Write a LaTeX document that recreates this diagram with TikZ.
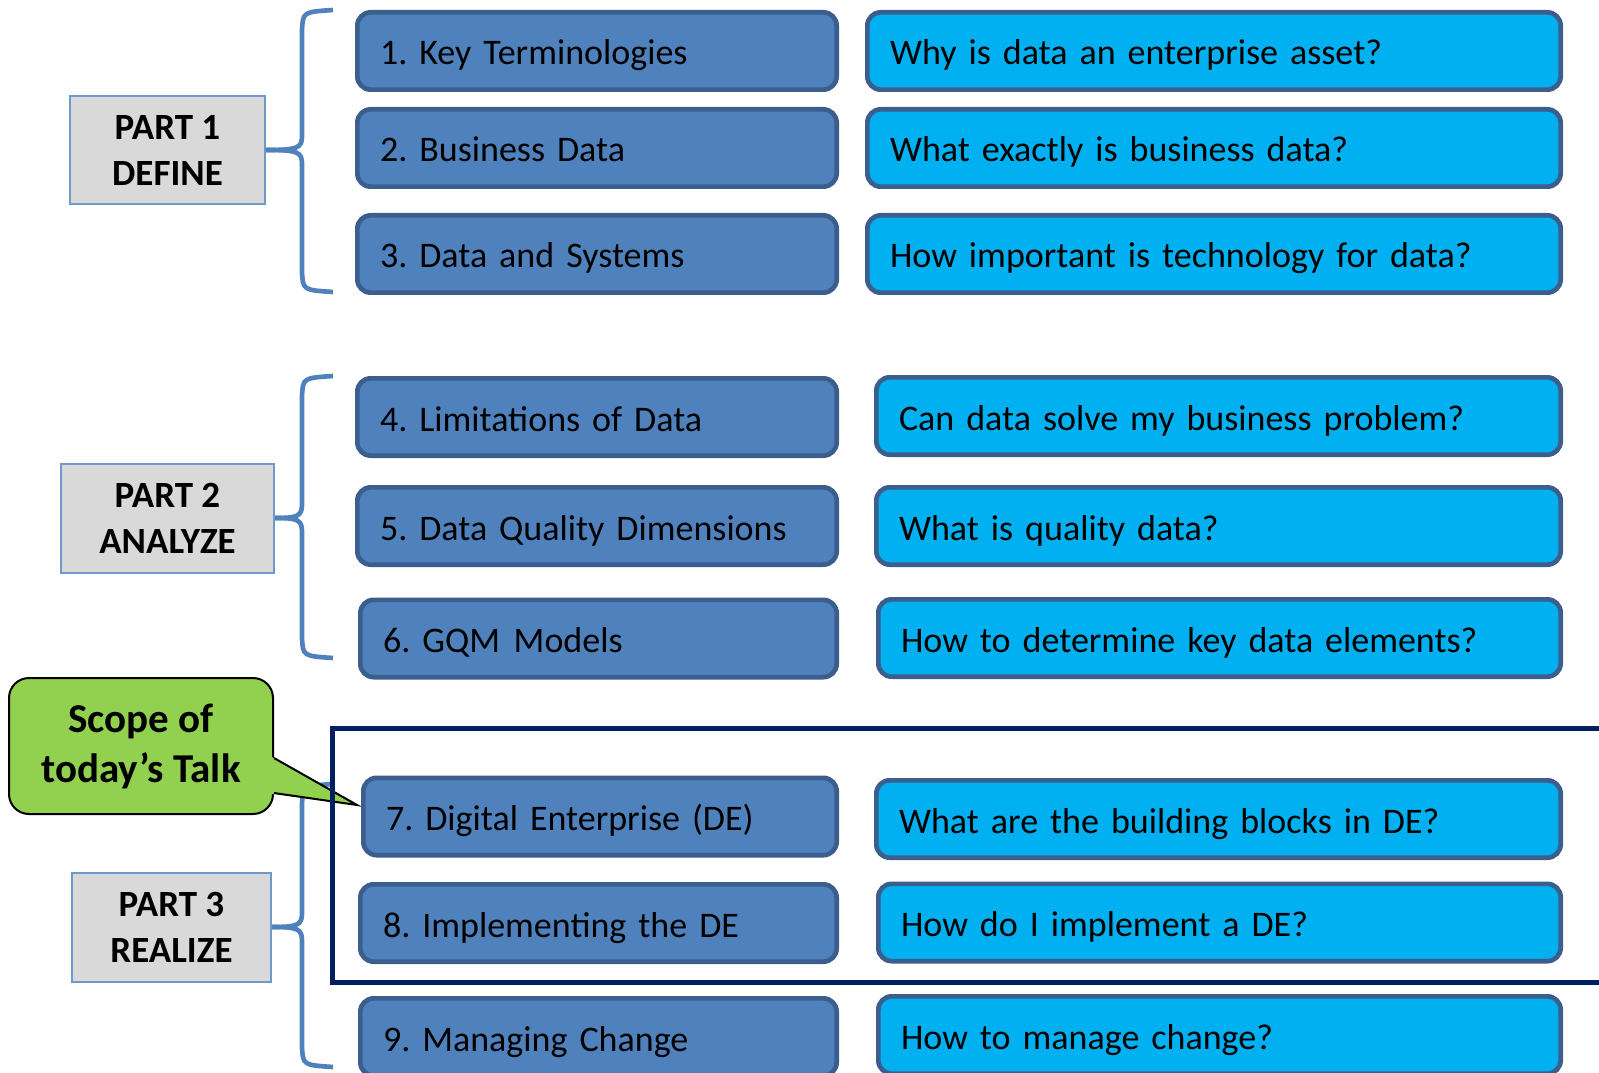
\documentclass[tikz,border=0pt]{standalone}
\usepackage{fontspec}
\setmainfont{Carlito}
\frenchspacing
\usetikzlibrary{positioning}
\definecolor{topicblue}{HTML}{4F81BD}
\definecolor{questcyan}{HTML}{00B0F0}
\definecolor{boxedge}{HTML}{3B5E8C}
\definecolor{partgray}{HTML}{D9D9D9}
\definecolor{partedge}{HTML}{6F98CB}
\definecolor{bracecol}{HTML}{4F81BD}
\definecolor{scopenavy}{HTML}{002060}
\definecolor{talkgreen}{HTML}{92D050}
\tikzset{
  item/.style={draw=boxedge, line width=3.5pt, rounded corners=10pt, anchor=west, align=left,
    minimum height=58pt, inner xsep=17pt, text height=25.5pt, text depth=4.5pt,
    font=\fontsize{27}{33}\selectfont},
  topic/.style={item, fill=topicblue, text width=#1},
  quest/.style={item, fill=questcyan, text width=#1},
  part/.style={draw=partedge, fill=partgray, line width=1.5pt, align=center,
    font=\bfseries\fontsize{27.75}{34.5}\selectfont},
  brace/.style={draw=bracecol, line width=3.5pt},
  talkbox/.style={draw=black, fill=talkgreen, line width=1.5pt, rounded corners=15pt, align=center,
    minimum width=198pt, minimum height=102pt, font=\bfseries\fontsize{30.75}{37.5}\selectfont},
}
\begin{document}
\begin{tikzpicture}[x=0.75pt,y=-0.75pt]
\useasboundingbox (0,0) rectangle (1599,1073);
% braces
\coordinate (b1) at (266,150);
\coordinate (b2) at (275,518);
\coordinate (b3) at (272,927);
\draw[brace] (333,10) .. controls (303,12) .. (302,30) -- (302,136) .. controls (302,148) and (298,150) .. (b1);
\draw[brace] (b1) .. controls (298,150) and (302,152) .. (302,164) -- (302,272) .. controls (303,290) .. (333,292);
\draw[brace] (333,376) .. controls (303,378) .. (302,396) -- (302,504) .. controls (302,516) and (298,518) .. (b2);
\draw[brace] (b2) .. controls (298,518) and (302,520) .. (302,532) -- (302,638) .. controls (303,656) .. (333,658);
\draw[brace] (333,784) .. controls (303,786) .. (302,804) -- (302,913) .. controls (302,925) and (298,927) .. (b3);
\draw[brace] (b3) .. controls (298,927) and (302,929) .. (302,941) -- (302,1047) .. controls (303,1065) .. (333,1067);
% parts
\node[part, minimum width=146pt, minimum height=81pt] (p1) at (167.5,150) {PART 1\\DEFINE};
\node[part, minimum width=159.75pt, minimum height=81.75pt] (p2) at (167.5,518) {PART 2\\ANALYZE};
\node[part, minimum width=149.25pt, minimum height=81.75pt] (p3) at (171.5,927) {PART 3\\REALIZE};
% callout
\node[talkbox] (talk) at (141,746) {Scope of\\today’s Talk};
\coordinate (tip) at (357,805);
\fill[talkgreen] (272,757) -- (tip) -- (272,794) -- cycle;
\draw[line width=1.5pt] (274,758) -- (tip) -- (274,793);
% scope frame
\draw[scopenavy, line width=3.75pt] (332,728) rectangle (1620,982);
% topics
\node[topic=325.5pt] (t1) at (355,51) {1. Key Terminologies};
\node[topic=325.5pt] (t2) at (355,148) {2. Business Data};
\node[topic=325.5pt] (t3) at (355,254) {3. Data and Systems};
\node[topic=325.5pt] (t4) at (355,417) {4. Limitations of Data};
\node[topic=325.5pt] (t5) at (355,526) {5. Data Quality Dimensions};
\node[topic=323.25pt] (t6) at (358,638.5) {6. GQM\hspace{0.38em}Models};
\node[topic=321pt] (t7) at (361,816.5) {7. Digital Enterprise (DE)};
\node[topic=323.25pt] (t8) at (358,923) {8. Implementing the DE};
\node[topic=323.25pt] (t9) at (358,1037) {9. Managing Change};
% questions
\node[quest=486pt] (q1) at (865,51) {Why is data an enterprise asset?};
\node[quest=486pt] (q2) at (865,148) {What exactly is business data?};
\node[quest=486pt] (q3) at (865,254) {How important is technology for data?};
\node[quest=479.25pt] (q4) at (874,416) {Can data solve my business problem?};
\node[quest=479.25pt] (q5) at (874,526) {What is quality data?};
\node[quest=477.75pt] (q6) at (876,638) {How to determine key data elements?};
\node[quest=479.25pt] (q7) at (874,819) {What are the building blocks in DE?};
\node[quest=477.75pt] (q8) at (876,922.5) {How do I implement a DE?};
\node[quest=477.75pt] (q9) at (876,1035) {How to manage change?};
\end{tikzpicture}
\end{document}
